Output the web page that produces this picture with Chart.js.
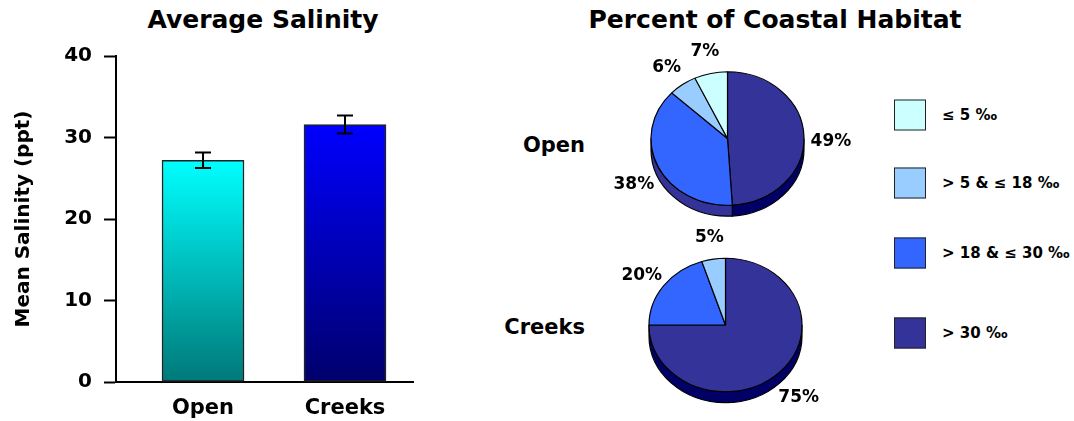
<!DOCTYPE html>
<html lang="en">
<head>
<meta charset="UTF-8">
<title>Average Salinity / Percent of Coastal Habitat</title>
<script src="https://cdn.jsdelivr.net/npm/chart.js@4.4.0/dist/chart.umd.min.js"></script>
<style>
  body { margin: 0; background: #fff; font-family: "DejaVu Sans", sans-serif; font-weight: bold; color: #000; }
  #page { position: relative; width: 1074px; height: 421px; overflow: hidden; }
  canvas { position: absolute; }
  .txt { position: absolute; white-space: nowrap; line-height: 1; transform: translate(-50%, -50%); }
  .title { font-size: 25px; }
  .row { font-size: 21px; transform: translate(-100%, -50%); }
  .swatch { position: absolute; left: 894px; width: 32px; height: 31px; box-sizing: border-box; border: 1.5px solid #222; transform: translateY(-50%); }
  .legtxt { position: absolute; left: 942px; font-size: 15px; line-height: 1; transform: translateY(-50%); white-space: nowrap; }
</style>
</head>
<body>
<div id="page">
  <div class="txt title" style="left:263px; top:19px;">Average Salinity</div>
  <div class="txt title" style="left:775px; top:19px;">Percent of Coastal Habitat</div>
  <div class="txt row" style="left:585px; top:145px;">Open</div>
  <div class="txt row" style="left:585px; top:327px;">Creeks</div>
  <canvas id="bars" width="470" height="421" style="left:0; top:0;"></canvas>
  <canvas id="pieOpen" width="276" height="200" style="left:590px; top:30px;"></canvas>
  <canvas id="pieCreeks" width="276" height="200" style="left:590px; top:220px;"></canvas>
</div>

<script>
// bar chart data
const sites = ['Open', 'Creeks'];
const meanSalinity = [27.2, 31.6];
const salinityErr = [0.95, 1.1];
const yTicks = [0, 10, 20, 30, 40];

// pie chart data (legend order)
const salinityClasses = ['\u2264 5 \u2030', '> 5 & \u2264 18 \u2030', '> 18 & \u2264 30 \u2030', '> 30 \u2030'];
const openPercent = [7, 6, 38, 49];
const creeksPercent = [0, 5, 20, 75];

// styling
const barTop = ['#00ffff', '#0000ff'];
const barBottom = ['#007878', '#00006c'];
const classColors = ['#ccffff', '#99ccff', '#3366ff', '#333399'];
const sideColors = ['#88cccc', '#6699cc', '#333399', '#000066'];
const legendY = [115, 183, 253, 333];
const FONT = '"DejaVu Sans", sans-serif';

// legend
const page = document.getElementById('page');
salinityClasses.forEach((label, i) => {
    const sw = document.createElement('div');
    sw.className = 'swatch';
    sw.style.top = legendY[i] + 'px';
    sw.style.background = classColors[i];
    page.appendChild(sw);
    const t = document.createElement('div');
    t.className = 'legtxt';
    t.style.top = legendY[i] + 'px';
    t.textContent = label;
    page.appendChild(t);
});

// ---------- bar chart ----------
function barFill(context) {
    const y = context.chart.scales.y;
    const i = context.dataIndex;
    if (!y || i === undefined) return barTop[0];
    const y0 = y.getPixelForValue(meanSalinity[i]);
    const y1 = y.getPixelForValue(0);
    if (!isFinite(y0) || !isFinite(y1) || y0 === y1) return barTop[i];
    const g = context.chart.ctx.createLinearGradient(0, y0, 0, y1);
    g.addColorStop(0, barTop[i]);
    g.addColorStop(1, barBottom[i]);
    return g;
}

const errorBars = {
    id: 'errorBars',
    afterDatasetsDraw(chart) {
        const ctx = chart.ctx;
        const y = chart.scales.y;
        ctx.save();
        ctx.strokeStyle = '#000';
        ctx.lineWidth = 2;
        chart.getDatasetMeta(0).data.forEach((bar, i) => {
            const hi = y.getPixelForValue(meanSalinity[i] + salinityErr[i]);
            const lo = y.getPixelForValue(meanSalinity[i] - salinityErr[i]);
            ctx.beginPath();
            ctx.moveTo(bar.x, hi); ctx.lineTo(bar.x, lo);
            ctx.moveTo(bar.x - 8, hi); ctx.lineTo(bar.x + 8, hi);
            ctx.moveTo(bar.x - 8, lo); ctx.lineTo(bar.x + 8, lo);
            ctx.stroke();
        });
        ctx.restore();
    }
};

new Chart(document.getElementById('bars'), {
    type: 'bar',
    data: {
        datasets: [{
            data: meanSalinity.map((v, i) => ({ x: i, y: v })),
            backgroundColor: barFill,
            borderColor: '#222',
            borderWidth: 1.5,
            borderSkipped: false,
            barThickness: 82
        }]
    },
    options: {
        responsive: false,
        animation: false,
        events: [],
        layout: { padding: { top: 56, right: 57, left: 0, bottom: 0 } },
        plugins: { legend: { display: false }, tooltip: { enabled: false } },
        scales: {
            x: {
                type: 'linear',
                offset: false,
                min: -0.613,
                max: 1.479,
                afterBuildTicks: s => { s.ticks = sites.map((c, i) => ({ value: i })); },
                afterFit: s => { s.height = 39; },
                grid: { display: true, offset: false, drawOnChartArea: false, drawTicks: false },
                border: { display: true, color: '#000', width: 2 },
                ticks: {
                    padding: 14,
                    color: '#000',
                    font: { family: FONT, size: 21, weight: 'bold' },
                    callback: v => sites[v]
                }
            },
            y: {
                min: 0,
                max: 40,
                afterBuildTicks: s => { s.ticks = yTicks.map(v => ({ value: v })); },
                afterFit: s => { s.width = 116; },
                grid: { drawOnChartArea: false, drawTicks: true, tickLength: 12, tickColor: '#000', tickWidth: 2 },
                border: { display: true, color: '#000', width: 2 },
                ticks: {
                    padding: 12,
                    color: '#000',
                    font: { family: FONT, size: 20, weight: 'bold' }
                },
                title: {
                    display: true,
                    text: 'Mean Salinity (ppt)',
                    color: '#000',
                    padding: { top: 12, bottom: 0 },
                    font: { family: FONT, size: 20, weight: 'bold' }
                }
            }
        }
    },
    plugins: [errorBars]
});

// ---------- 3D-style pies ----------
const SQUASH = 0.872;
const DEPTH = 11;

const pie3d = {
    id: 'pie3d',
    beforeDatasetsDraw(chart) {
        const ctx = chart.ctx;
        const arcs = chart.getDatasetMeta(0).data;
        const vals = chart.data.datasets[0].data;
        const sides = chart.data.datasets[0].sideColors;
        ctx.save();
        arcs.forEach((a, i) => {
            if (!vals[i]) return;
            const s = Math.max(a.startAngle, 0);
            const e = Math.min(a.endAngle, Math.PI);
            if (e <= s) return;
            const rx = a.outerRadius, ry = rx * SQUASH;
            ctx.beginPath();
            ctx.ellipse(a.x, a.y, rx, ry, 0, s, e);
            ctx.ellipse(a.x, a.y + DEPTH, rx, ry, 0, e, s, true);
            ctx.closePath();
            ctx.fillStyle = sides[i];
            ctx.fill();
            ctx.lineWidth = 1.2;
            ctx.strokeStyle = '#000';
            ctx.stroke();
        });
        ctx.restore();
        const a0 = arcs[0];
        ctx.save();
        ctx.translate(a0.x, a0.y);
        ctx.scale(1, SQUASH);
        ctx.translate(-a0.x, -a0.y);
    },
    afterDatasetsDraw(chart) {
        const ctx = chart.ctx;
        ctx.restore();
        const vals = chart.data.datasets[0].data;
        ctx.save();
        ctx.fillStyle = '#000';
        ctx.font = 'bold 17px ' + FONT;
        ctx.textAlign = 'center';
        ctx.textBaseline = 'middle';
        chart.getDatasetMeta(0).data.forEach((a, i) => {
            if (!vals[i]) return;
            const mid = (a.startAngle + a.endAngle) / 2;
            const rx = a.outerRadius, ry = rx * SQUASH;
            const x = a.x + (rx + 27) * Math.cos(mid);
            const y = a.y + (ry + 28) * Math.sin(mid) + 6;
            ctx.fillText(vals[i] + '%', x, y);
        });
        ctx.restore();
    }
};

function makePie(id, values, pad) {
    // drawn clockwise from 12 o'clock: > 30 first, so reverse the legend order
    const rev = a => a.slice().reverse();
    new Chart(document.getElementById(id), {
        type: 'pie',
        data: {
            labels: rev(salinityClasses),
            datasets: [{
                data: rev(values),
                backgroundColor: rev(classColors),
                sideColors: rev(sideColors),
                borderColor: '#000',
                borderWidth: 1.2,
                radius: 76.5
            }]
        },
        options: {
            responsive: false,
            animation: false,
            events: [],
            layout: { padding: pad },
            plugins: { legend: { display: false }, tooltip: { enabled: false } }
        },
        plugins: [pie3d]
    });
}

makePie('pieOpen', openPercent, { left: 61, right: 62, top: 32, bottom: 15 });
makePie('pieCreeks', creeksPercent, { left: 59, right: 64, top: 29, bottom: 19 });
</script>
</body>
</html>
